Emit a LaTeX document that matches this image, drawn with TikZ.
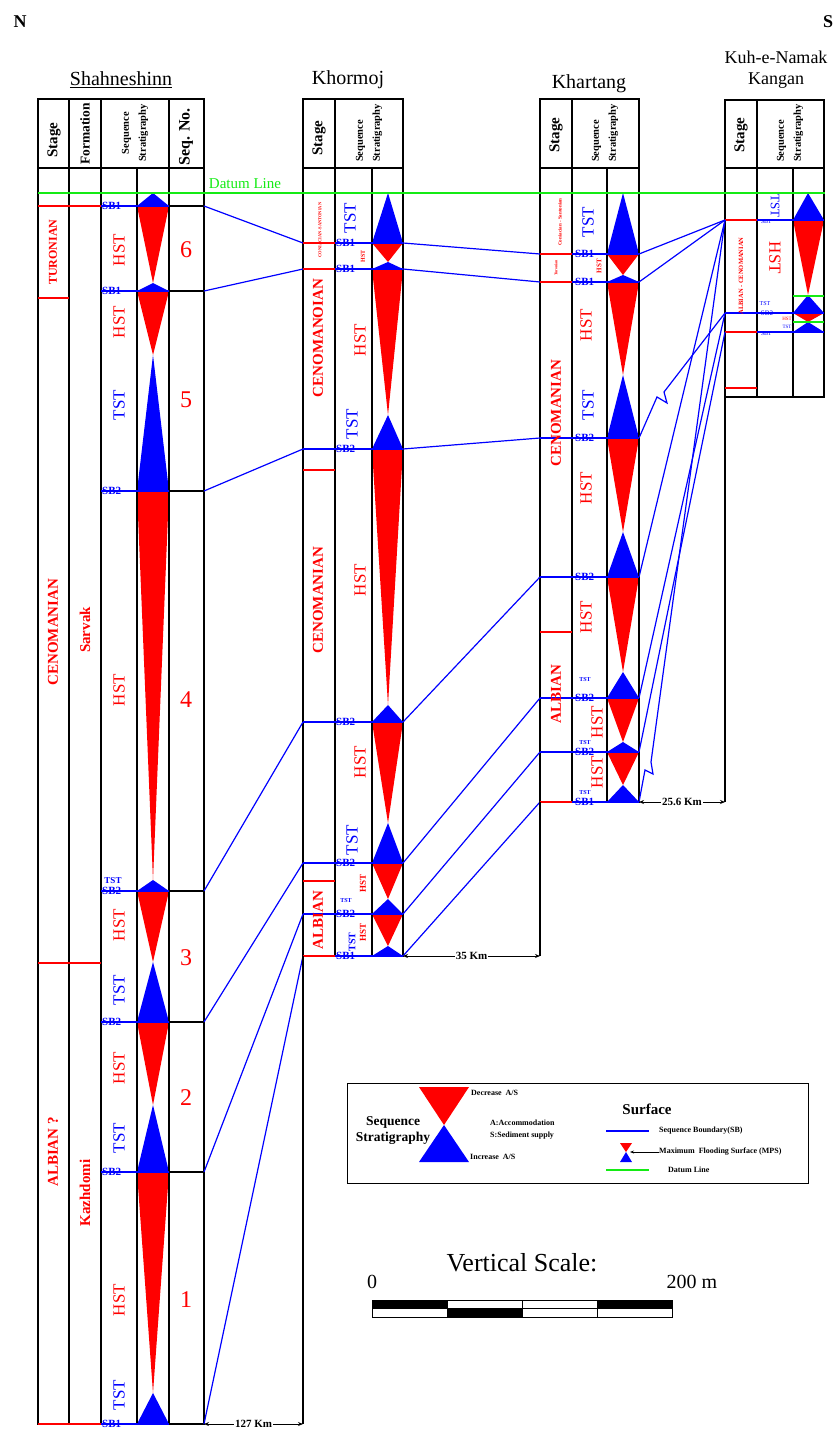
\documentclass[tikz,border=0pt]{standalone}
\usepackage{fontspec}
\setmainfont{Liberation Serif}
\usepackage{tikz}
\usetikzlibrary{arrows.meta, positioning, calc}

\definecolor{rojo}{RGB}{255,0,0}
\definecolor{azul}{RGB}{0,0,255}
\definecolor{verde}{RGB}{20,235,20}

\begin{document}
\begin{tikzpicture}[
    x=1pt, y=-1pt,
    marco/.style={draw=black, line width=1.1pt},
    limite/.style={draw=azul, line width=1.4pt},
    piso/.style={draw=rojo, line width=1.4pt},
    correl/.style={draw=azul, line width=1.2pt},
    titulo/.style={font=\fontsize{20}{20}\selectfont},
    cab/.style={font=\fontsize{15}{15}\selectfont\bfseries, rotate=90},
    cabseq/.style={font=\fontsize{10.5}{17}\selectfont\bfseries, rotate=90, align=left},
    edad/.style={font=\fontsize{15}{15}\selectfont\bfseries, text=rojo, rotate=90},
    hst/.style={font=\fontsize{17}{17}\selectfont, text=rojo, rotate=90},
    tst/.style={font=\fontsize{17}{17}\selectfont, text=azul, rotate=90},
    mini/.style={font=\fontsize{7}{7}\selectfont\bfseries, inner sep=0pt},
    sb/.style={font=\fontsize{11}{11}\selectfont\bfseries, text=azul, anchor=west, inner sep=0pt},
    numero/.style={font=\fontsize{24}{24}\selectfont, text=rojo},
    dist/.style={{Stealth[length=5pt, width=4pt]}-{Stealth[length=5pt, width=4pt]}, line width=0.9pt},
    km/.style={font=\fontsize{11}{11}\selectfont\bfseries, fill=white, inner sep=1pt},
    leyenda/.style={font=\fontsize{8}{9}\selectfont\bfseries, anchor=west, inner sep=0pt}
  ]
  \useasboundingbox (0,0) rectangle (837,1429);

  % --- Rotulos generales ---
  \node[font=\fontsize{18}{18}\selectfont\bfseries] (norte) at (20,22) {N};
  \node[font=\fontsize{18}{18}\selectfont\bfseries] (sur) at (828,22) {S};
  \node[titulo] (tshah) at (121,80) {\underline{Shahneshinn}};
  \node[titulo] (tkhor) at (348,80) {Khormoj};
  \node[titulo] (tkhar) at (589,84) {Khartang};
  \node[align=center, font=\fontsize{18}{21}\selectfont] (tkuh) at (776,70) {Kuh-e-Namak\\Kangan};

  % --- Columna 1: Shahneshinn ---
  \fill[azul] (153,193) -- (169,206) -- (137,206) -- cycle;
  \foreach \a/\m/\b in {206/283/291, 291/355/491, 491/880/891, 891/962/1022,
                        1022/1105/1172, 1172/1393/1424}{
    \fill[rojo] (137,\a) -- (169,\a) -- (153,\m) -- cycle;
    \fill[azul] (153,\m) -- (169,\b) -- (137,\b) -- cycle;
  }
  \draw[marco] (38,99) rectangle (204,1424);
  \draw[marco] (38,168) -- (204,168);
  \foreach \x in {69,101,169} \draw[marco] (\x,99) -- (\x,1424);
  \draw[marco] (137,168) -- (137,1424);
  \foreach \y [count=\i] in {206,291,491,891,1022,1172,1424}{
    \draw[limite] (101,\y) -- (169,\y);
    \draw[marco] (169,\y) -- (204,\y);
    \coordinate (s\i) at (204,\y);
  }
  \draw[piso] (38,206) -- (101,206);
  \draw[piso] (38,298) -- (69,298);
  \draw[piso] (38,963) -- (101,963);
  \draw[piso] (38,1424) -- (101,1424);

  \node[cab] (shst) at (54,140) {Stage};
  \node[cab, font=\fontsize{13.5}{13.5}\selectfont\bfseries] (shfm) at (85,134) {Formation};
  \node[cabseq, align=center] (shsq) at (135,133) {Sequence\\Stratigraphy};
  \node[cab, font=\fontsize{16}{16}\selectfont\bfseries] (shno) at (186,137) {Seq. No.};

  \node[edad, font=\fontsize{12}{12}\selectfont\bfseries] (shtur) at (53,252) {TURONIAN};
  \node[edad] (shcen) at (53,632) {CENOMANIAN};
  \node[edad] (shalb) at (53,1152) {ALBIAN ?};
  \node[edad] (shsar) at (85,630) {Sarvak};
  \node[edad] (shkaz) at (85,1193) {Kazhdomi};

  \foreach \y/\t [count=\i] in {206/SB1, 291/SB1, 491/SB2, 891/SB2, 1022/SB2, 1172/SB2, 1424/SB1}
    \node[sb] (shsb\i) at (102,\y) {\t};
  \foreach \y [count=\i] in {250,322,690,925,1068,1300}
    \node[hst] (shh\i) at (119,\y) {HST};
  \foreach \y [count=\i] in {405,990,1138,1395}
    \node[tst] (sht\i) at (119,\y) {TST};
  \node[mini, text=azul, font=\fontsize{9}{9}\selectfont\bfseries] (shtt) at (113,881) {TST};
  \foreach \y/\n in {250/6, 400/5, 700/4, 958/3, 1098/2, 1300/1}
    \node[numero] (num\n) at (186,\y) {\n};

  % --- Columna 2: Khormoj ---
  \fill[azul] (388,193) -- (403,243) -- (372,243) -- cycle;
  \foreach \a/\m/\b in {243/262/269, 269/415/449, 449/705/722, 722/823/863,
                        863/899/914, 914/946/956}{
    \fill[rojo] (372,\a) -- (403,\a) -- (388,\m) -- cycle;
    \fill[azul] (388,\m) -- (403,\b) -- (372,\b) -- cycle;
  }
  \draw[marco] (303,99) rectangle (403,956);
  \draw[marco] (303,168) -- (403,168);
  \draw[marco] (335,99) -- (335,956);
  \draw[marco] (372,168) -- (372,956);
  \foreach \y [count=\i] in {243,269,449,722,863,914,956}{
    \draw[limite] (303,\y) -- (403,\y);
    \coordinate (kl\i) at (303,\y);
    \coordinate (kr\i) at (403,\y);
  }
  \foreach \y in {243,269,470,881,956} \draw[piso] (303,\y) -- (335,\y);

  \node[cab] (khst) at (319,138) {Stage};
  \node[cabseq] (khsq) at (369,133) {Sequence\\Stratigraphy};
  \node[edad, font=\fontsize{4.5}{5}\selectfont\bfseries] (khcs) at (320,230) {CONIACIAN-SANTONIAN};
  \node[edad] (khcen1) at (318,338) {CENOMANOIAN};
  \node[edad] (khcen2) at (318,600) {CENOMANIAN};
  \node[edad] (khalb) at (318,920) {ALBIAN};

  \foreach \y/\t [count=\i] in {243/SB1, 269/SB1, 449/SB2, 722/SB2, 863/SB2, 914/SB2, 956/SB1}
    \node[sb] (khsb\i) at (336,\y) {\t};
  \node[tst] (kht1) at (350,218) {TST};
  \node[hst, font=\fontsize{6}{6}\selectfont\bfseries] (khh1) at (363,256) {HST};
  \node[hst] (khh2) at (360,340) {HST};
  \node[tst] (kht2) at (352,424) {TST};
  \node[hst] (khh3) at (360,580) {HST};
  \node[hst] (khh4) at (360,762) {HST};
  \node[tst] (kht3) at (352,840) {TST};
  \node[hst, font=\fontsize{9}{9}\selectfont\bfseries] (khh5) at (363,883) {HST};
  \node[mini, text=azul, font=\fontsize{6}{6}\selectfont\bfseries] (khtt) at (346,901) {TST};
  \node[hst, font=\fontsize{9}{9}\selectfont\bfseries] (khh6) at (363,932) {HST};
  \node[tst, font=\fontsize{10}{10}\selectfont\bfseries] (kht4) at (352,942) {TST};

  % --- Columna 3: Khartang ---
  \fill[azul] (623,193) -- (639,254) -- (607,254) -- cycle;
  \foreach \a/\m/\b in {254/275/282, 282/375/438, 438/532/577, 577/672/698,
                        698/742/752, 752/785/802}{
    \fill[rojo] (607,\a) -- (639,\a) -- (623,\m) -- cycle;
    \fill[azul] (623,\m) -- (639,\b) -- (607,\b) -- cycle;
  }
  \draw[marco] (540,99) rectangle (639,802);
  \draw[marco] (540,168) -- (639,168);
  \draw[marco] (572,99) -- (572,802);
  \draw[marco] (607,168) -- (607,802);
  \foreach \y [count=\i] in {254,282,438,577,698,752,802}{
    \draw[limite] (540,\y) -- (639,\y);
    \coordinate (tl\i) at (540,\y);
    \coordinate (tr\i) at (639,\y);
  }
  \foreach \y in {254,282,632,802} \draw[piso] (540,\y) -- (572,\y);

  \node[cab] (tast) at (556,135) {Stage};
  \node[cabseq] (tasq) at (605,133) {Sequence\\Stratigraphy};
  \node[edad, font=\fontsize{5}{5}\selectfont\bfseries] (tacs) at (560,222) {Coniacian - Santonian};
  \node[edad, font=\fontsize{4}{4}\selectfont\bfseries] (tatu) at (556,268) {Turonian};
  \node[edad] (tacen) at (556,413) {CENOMANIAN};
  \node[edad] (taalb) at (556,694) {ALBIAN};

  \foreach \y/\t [count=\i] in {254/SB1, 282/SB1, 438/SB2, 577/SB2, 698/SB2, 752/SB2, 802/SB1}
    \node[sb] (tasb\i) at (575,\y) {\t};
  \node[tst] (tat1) at (588,222) {TST};
  \node[hst, font=\fontsize{7}{7}\selectfont\bfseries] (tah1) at (599,266) {HST};
  \node[hst] (tah2) at (586,325) {HST};
  \node[tst] (tat2) at (588,405) {TST};
  \node[hst] (tah3) at (586,488) {HST};
  \node[hst] (tah4) at (586,617) {HST};
  \node[hst] (tah5) at (597,722) {HST};
  \node[hst] (tah6) at (597,772) {HST};
  \foreach \y [count=\i] in {680,743,793}
    \node[mini, text=azul, font=\fontsize{6}{6}\selectfont\bfseries] (tatt\i) at (585,\y) {TST};

  % --- Columna 4: Kuh-e-Namak Kangan ---
  \fill[azul] (808,193) -- (824,220) -- (793,220) -- cycle;
  \foreach \a/\m/\b in {220/295/313, 313/322/332}{
    \fill[rojo] (793,\a) -- (824,\a) -- (808,\m) -- cycle;
    \fill[azul] (808,\m) -- (824,\b) -- (793,\b) -- cycle;
  }
  \draw[marco] (725,100) rectangle (824,397);
  \draw[marco] (725,168) -- (824,168);
  \draw[marco] (757,100) -- (757,397);
  \draw[marco] (793,168) -- (793,397);
  \foreach \y [count=\i] in {220,313,332}{
    \draw[limite] (725,\y) -- (824,\y);
    \coordinate (n\i) at (725,\y);
  }
  \foreach \y in {220,332,388} \draw[piso] (725,\y) -- (757,\y);
  \foreach \y in {296,322} \draw[verde, line width=1.2pt] (793,\y) -- (824,\y);

  \node[cab] (kust) at (741,135) {Stage};
  \node[cabseq] (kusq) at (790,133) {Sequence\\Stratigraphy};
  \node[edad, font=\fontsize{6.5}{7}\selectfont\bfseries] (kuac) at (741,276) {ALBIAN - CENOMANIAN};
  \node[tst, rotate=180, font=\fontsize{13}{13}\selectfont] (kut1) at (775,206) {TST};
  \node[hst, rotate=180] (kuh1) at (775,258) {HST};
  \node[mini, text=azul, font=\fontsize{6}{6}\selectfont] (kusb1) at (766,222) {SB1};
  \node[mini, text=azul, font=\fontsize{6}{6}\selectfont] (kutt) at (765,304) {TST};
  \node[mini, text=azul, font=\fontsize{7}{7}\selectfont] (kusb2) at (767,313) {SB2};
  \node[mini, text=rojo, font=\fontsize{5}{5}\selectfont] (kuhh) at (787,319) {HST};
  \node[mini, text=azul, font=\fontsize{5}{5}\selectfont] (kutt2) at (787,327) {TST};
  \node[mini, text=azul, font=\fontsize{6}{6}\selectfont] (kusb3) at (766,334) {SB1};

  % --- Linea de referencia ---
  \draw[verde, line width=1.5pt] (38,193) -- (825,193);
  \node[text=verde, font=\fontsize{15}{15}\selectfont] (datum) at (245,184) {Datum Line};

  % --- Correlaciones ---
  \foreach \i in {1,...,7}{
    \draw[correl] (s\i) -- (kl\i);
    \draw[correl] (kr\i) -- (tl\i);
  }
  \draw[correl] (tr1) -- (n1);
  \draw[correl] (tr2) -- (n1);
  \draw[correl] (tr4) -- (n1);
  \draw[correl] (tr5) -- (n2);
  \draw[correl] (tr6) -- (n3);
  % lineas quebradas (discordancia)
  \draw[correl] (tr3) -- (657,397) -- (667,403) -- (664,392) -- (n2);
  \draw[correl] (tr7) -- (645,770) -- (653,774) -- (651,762) -- (n1);

  % --- Distancias entre pozos ---
  \coordinate (p1) at (303,1424);
  \coordinate (p2) at (540,956);
  \coordinate (p3) at (725,802);
  \draw[marco] (kl7) -- (p1);
  \draw[marco] (tl7) -- (p2);
  \draw[marco] (725,397) -- (p3);
  \draw[dist] (s7) -- node[km] (d1) {127 Km} (p1);
  \draw[dist] (kr7) -- node[km] (d2) {35 Km} (p2);
  \draw[dist] (tr7) -- node[km] (d3) {25.6 Km} (p3);

  % --- Leyenda ---
  \draw[marco, line width=1pt] (347,1083) rectangle (808,1183);
  \node[font=\fontsize{13.5}{16}\selectfont\bfseries, align=center] (lss) at (393,1131) {Sequence\\Stratigraphy};
  \fill[rojo] (419,1087) -- (469,1087) -- (444,1125) -- cycle;
  \fill[azul] (444,1125) -- (469,1162) -- (419,1162) -- cycle;
  \node[leyenda] (ldec) at (471,1093) {Decrease\ \ A/S};
  \node[leyenda] (lacc) at (490,1123) {A:Accommodation};
  \node[leyenda] (lsed) at (490,1136) {S:Sediment supply};
  \node[leyenda] (linc) at (470,1157) {Increase\ \ A/S};
  \node[font=\fontsize{15}{15}\selectfont\bfseries] (lsup) at (647,1109) {Surface};
  \draw[limite] (606,1131) -- (649,1131);
  \node[leyenda] (lsb) at (659,1131) {Sequence Boundary(SB)};
  \fill[rojo] (620,1143) -- (632,1143) -- (626,1152) -- cycle;
  \fill[azul] (626,1152) -- (632,1162) -- (620,1162) -- cycle;
  \node[leyenda] (lmfs) at (659,1152) {Maximum\ \ Flooding Surface (MPS)};
  \draw[-{Stealth[length=4pt]}, line width=0.8pt] (lmfs.west) -- (630,1152);
  \draw[verde, line width=1.2pt] (606,1170) -- (649,1170);
  \node[leyenda] (ldat) at (668,1170) {Datum Line};

  % --- Escala vertical ---
  \node[font=\fontsize{26}{26}\selectfont] (escala) at (522,1263) {Vertical Scale:};
  \node[font=\fontsize{20}{20}\selectfont] (cero) at (372,1282) {0};
  \node[font=\fontsize{20}{20}\selectfont] (dos) at (692,1282) {200 m};
  \fill[black] (372,1300) rectangle (447,1308);
  \fill[black] (447,1308) rectangle (522,1317);
  \fill[black] (597,1300) rectangle (672,1308);
  \draw[marco, line width=0.8pt] (372,1300) rectangle (672,1317);
  \draw[line width=0.6pt] (372,1308) -- (672,1308);
  \foreach \x in {447,522,597} \draw[line width=0.6pt] (\x,1300) -- (\x,1317);
\end{tikzpicture}
\end{document}
